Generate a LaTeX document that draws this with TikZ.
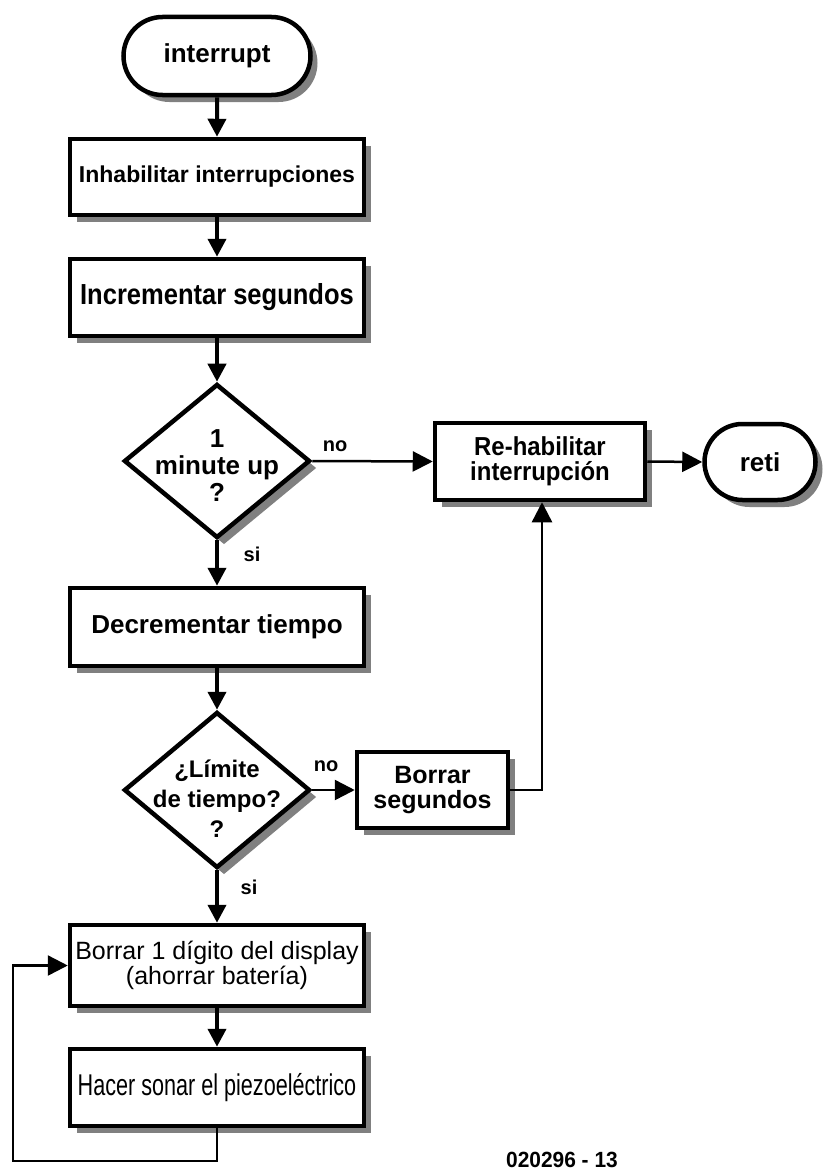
\documentclass[tikz,border=0pt]{standalone}
\usepackage{fontspec}
\setmainfont{Liberation Sans}
\newfontfamily\fA[FakeStretch=0.88]{Liberation Sans}
\newfontfamily\fB[FakeStretch=0.92]{Liberation Sans}
\newfontfamily\fC[FakeStretch=0.72]{Liberation Sans}
\newfontfamily\fD[FakeStretch=0.95]{Liberation Sans}
\usetikzlibrary{shapes.geometric,shapes.misc,shadows,arrows.meta}
\begin{document}
\begin{tikzpicture}[x=1pt,y=-1pt,
  shad/.style={drop shadow={shadow xshift=7pt,shadow yshift=-7pt,fill=black!50,opacity=1}},
  txt/.style={font=\fontsize{25}{23}\selectfont\bfseries,align=center,inner sep=0pt},
  box/.style={draw,line width=4.5pt,fill=white,rectangle,inner sep=0pt,align=center,shad,
    font=\fontsize{25}{23}\selectfont\bfseries},
  term/.style={draw,line width=4.5pt,fill=white,rounded rectangle,inner sep=0pt,shad,
    font=\fontsize{26}{23}\selectfont\bfseries},
  dia/.style={draw,line width=4.5pt,fill=white,diamond,inner sep=0pt,shad},
  lbl/.style={font=\fontsize{20}{20}\selectfont\bfseries,inner sep=0pt},
  thick arrow/.style={line width=4pt,-{Triangle[length=18pt,width=18pt]}},
  thin arrow/.style={line width=2.5pt,-{Triangle[length=20pt,width=20pt]}}
]
\useasboundingbox (0,0) rectangle (824,1172);

\node[term,minimum width=187pt,minimum height=78pt] (start) at (217,56) {interrupt};
\node[box,minimum width=294pt,minimum height=76pt,font=\fontsize{23}{23}\selectfont\bfseries] (b1) at (217,177) {Inhabilitar interrupciones};
\node[box,minimum width=294pt,minimum height=77pt,font=\fA\fontsize{29}{29}\selectfont\bfseries] (b2) at (217,297.5) {Incrementar segundos};
\node[dia,minimum width=186pt,minimum height=154pt] (d1) at (217,461) {};
\node[txt,font=\fontsize{26}{27}\selectfont\bfseries] (d1t) at (217,466) {1\\minute up\\?};
\node[box,minimum width=210pt,minimum height=77pt,font=\fB\fontsize{26}{25}\selectfont\bfseries] (rh) at (540,461.5) {Re-habilitar\\interrupción};
\node[term,minimum width=111pt,minimum height=76pt] (reti) at (760,462) {reti};
\node[box,minimum width=294pt,minimum height=78pt,font=\fontsize{26}{26}\selectfont\bfseries] (b3) at (217,627) {Decrementar tiempo};
\node[dia,minimum width=186pt,minimum height=156pt] (d2) at (217,790) {};
\node[txt,font=\fontsize{24}{30}\selectfont\bfseries] (d2t) at (217,799) {¿Límite\\de tiempo?\\?};
\node[box,minimum width=151pt,minimum height=76pt,font=\fontsize{25}{25}\selectfont\bfseries] (bs) at (432.5,790) {Borrar\\segundos};
\node[box,minimum width=294pt,minimum height=81pt,font=\fontsize{25}{25}\selectfont] (b4) at (217,965.5) {Borrar 1 dígito del display\\(ahorrar batería)};
\node[box,minimum width=294pt,minimum height=77pt,font=\fC\fontsize{30}{30}\selectfont] (b5) at (217,1087.5) {Hacer sonar el piezoeléctrico};

\node[lbl] (no1) at (335,446) {no};
\node[lbl] (si1) at (252,554) {si};
\node[lbl] (no2) at (326,766) {no};
\node[lbl] (si2) at (249,887) {si};
\node[lbl,font=\fD\fontsize{22}{22}\selectfont\bfseries] (code) at (562,1160) {020296 - 13};

\draw[thick arrow] (start) -- (b1);
\draw[thick arrow] (b1) -- (b2);
\draw[thick arrow] (b2) -- (d1);
\draw[thick arrow] (d1) -- (b3);
\draw[thick arrow] (b3) -- (d2);
\draw[thick arrow] (d2) -- (b4);
\draw[thick arrow] (b4) -- (b5);
\draw[thin arrow] (d1.east) -- (rh.west);
\draw[thin arrow] (rh.east) -- (reti.west);
\draw[thin arrow] (d2.east) -- (bs.west);
\coordinate (c1) at (542,790);
\draw[thin arrow] (bs.east) -- (c1) -- (c1 |- rh.south);
\coordinate (l1) at (217,1161);
\coordinate (l2) at (13,1161);
\draw[thin arrow] (b5.south) -- (l1) -- (l2) -- (l2 |- b4.west) -- (b4.west);
\end{tikzpicture}
\end{document}
